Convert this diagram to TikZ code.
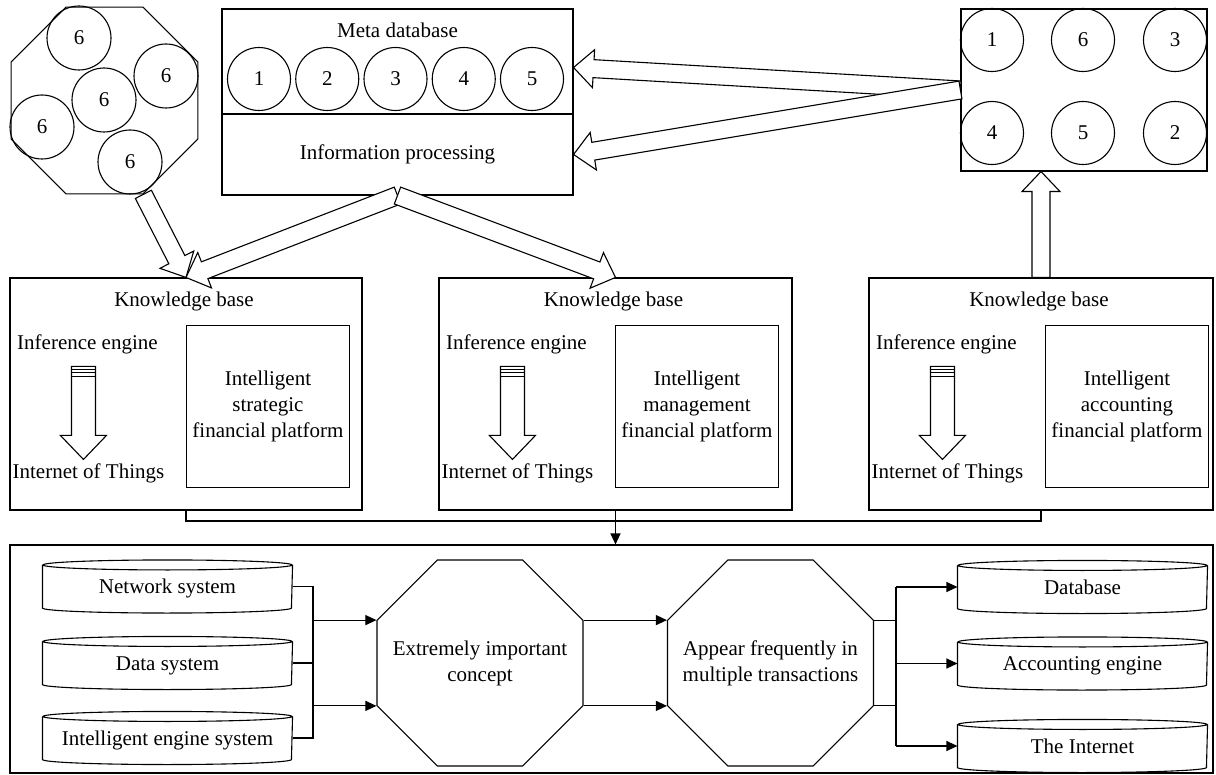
\documentclass[tikz,border=0pt]{standalone}
\usepackage{fontspec}
\setmainfont{Liberation Serif}
\usetikzlibrary{shapes.geometric,calc,arrows.meta}

\def\fashaft{9pt}
\def\fahead{19pt}
\def\falen{20pt}
\newcommand\fatarrow[2]{%
  \coordinate (fah) at ($(#2)!\falen!(#1)$);
  \draw[fat] ($(#1)!\fashaft!90:(#2)$) -- ($(fah)!\fashaft!90:(#2)$)
    -- ($(fah)!\fahead!90:(#2)$) -- (#2) -- ($(fah)!\fahead!-90:(#2)$)
    -- ($(fah)!\fashaft!-90:(#2)$) -- ($(#1)!\fashaft!-90:(#2)$) -- cycle;}

\begin{document}
\begin{tikzpicture}[x=1pt,y=-1pt,line width=1.1pt,
    font=\fontsize{21}{26}\selectfont,
    box/.style={draw,rectangle,inner sep=0pt},
    ball/.style={draw,circle,minimum size=63,inner sep=0pt},
    octo/.style={draw,regular polygon,regular polygon sides=8,minimum size=#1,inner sep=0pt},
    drum/.style={minimum width=249,minimum height=52,inner sep=0pt,text height=14pt,text depth=0pt},
    fat/.style={draw,fill=white},
    flow/.style={-{Triangle[length=11pt,width=10pt]}}]
  \useasboundingbox (0,0) rectangle (1216,775);

  % top row
  \node[octo=202] (oct0) at (104.5,100.5) {};
  \foreach \x/\y [count=\k] in {79/38,166/76,104/100,42/127,130/162}
    \node[ball,minimum size=64] (six\k) at (\x,\y) {6};

  \node[box,minimum width=351,minimum height=105] (metatop) at (397.5,61.5) {};
  \node[box,minimum width=351,minimum height=81] (metabot) at (397.5,154.5) {Information processing};
  \node (metatitle) at (397.5,30) {Meta database};
  \foreach \k in {1,...,5}
    \node[ball] (m\k) at ({259+68.25*(\k-1)},79) {\k};

  \node[box,minimum width=246,minimum height=162] (rbox) at (1084,90) {};
  \foreach \k/\x/\y in {1/992/40,6/1083/40,3/1175/40,4/992/133,5/1083/133,2/1175/133}
    \node[ball] (r\k) at (\x,\y) {\k};

  % knowledge bases
  \foreach \i/\cx/\w/\kind in {1/186/352/strategic,2/615.5/353/management,3/1041/344/accounting} {
    \node[box,minimum width=\w,minimum height=232] (kb\i) at (\cx,394) {};
    \node (kbt\i) at ($(kb\i.north)+(-2,24)$) {Knowledge base};
    \node (ie\i) at ($(kb\i.north west)+(78,67)$) {Inference engine};
    \node (iot\i) at ($(kb\i.north west)+(79,196)$) {Internet of Things};
    \node[box,minimum width=163,minimum height=162,align=center] (pf\i)
      at ($(kb\i.north west)+(258.5,129)$) {Intelligent\\\kind\\financial platform};
    \coordinate (ia\i) at ($(kb\i.north west)+(74,89)$);
    \coordinate (ib\i) at ($(kb\i.north west)+(74,182)$);
    {\def\fashaft{12pt}\def\fahead{23pt}\def\falen{24pt}\fatarrow{ia\i}{ib\i}}
    \foreach \d in {3,6.5,10}
      \draw ($(ia\i)+(-12,\d)$) -- ++(24,0);
  }

  % fat arrows
  \coordinate (mtip) at ([yshift=-6pt]metatop.east);
  \coordinate (up) at (kb3.north |- rbox.south);
  \fatarrow{oct0.corner 6}{kb1.north}
  \fatarrow{metabot.south}{kb1.north}
  \fatarrow{metabot.south}{kb2.north}
  \fatarrow{kb3.north}{up}
  \fatarrow{rbox.west}{mtip}
  \fatarrow{rbox.west}{metabot.east}

  % bottom part
  \node[box,minimum width=1203,minimum height=228] (bot) at (611.5,659) {};
  \coordinate (join) at (0,521);
  \draw (kb1.south) -- (kb1.south |- join) -- (kb3.south |- join) -- (kb3.south);
  \draw[flow] (kb2.south) -- (kb2.south |- bot.north);

  \node[drum] (net) at (167.5,586.5) {Network system};
  \node[drum] (data) at (167.5,663) {Data system};
  \node[drum] (eng) at (167.5,738) {Intelligent engine system};
  \node[drum] (db) at (1082.5,587) {Database};
  \node[drum] (acc) at (1082.5,663.5) {Accounting engine};
  \node[drum] (inet) at (1082.5,746) {The Internet};
  \foreach \c in {net,data,eng,db,acc,inet}
    \draw ([yshift=-5pt]\c.north west) -- ([yshift=5pt]\c.south west)
      arc[start angle=180,end angle=360,x radius=124.5pt,y radius=5pt]
      -- ([yshift=-5pt]\c.north east)
      ([yshift=-5pt]\c.north) ellipse[x radius=124.5pt,y radius=5pt];

  \node[octo=223] (oct1) at (480,663) {};
  \node[align=center] (oct1t) at (oct1) {Extremely important\\concept};
  \node[octo=223] (oct2) at (770.5,663) {};
  \node[align=center] (oct2t) at (oct2) {Appear frequently in\\multiple transactions};

  \coordinate (lbus) at (313,0);
  \draw (net.east) -- (net.east -| lbus) -- (eng.east -| lbus) -- (eng.east);
  \draw (data.east) -- (data.east -| lbus);
  \draw[flow] (oct1.corner 3 -| lbus) -- (oct1.corner 3);
  \draw[flow] (oct1.corner 4 -| lbus) -- (oct1.corner 4);

  \draw[flow] (oct1.corner 8) -- (oct2.corner 3);
  \draw[flow] (oct1.corner 7) -- (oct2.corner 4);

  \coordinate (rbus) at (896,0);
  \draw (oct2.corner 8) -- (oct2.corner 8 -| rbus);
  \draw (oct2.corner 7) -- (oct2.corner 7 -| rbus);
  \draw (db.west -| rbus) -- (inet.west -| rbus);
  \foreach \c in {db,acc,inet}
    \draw[flow] (\c.west -| rbus) -- (\c.west);
\end{tikzpicture}
\end{document}
